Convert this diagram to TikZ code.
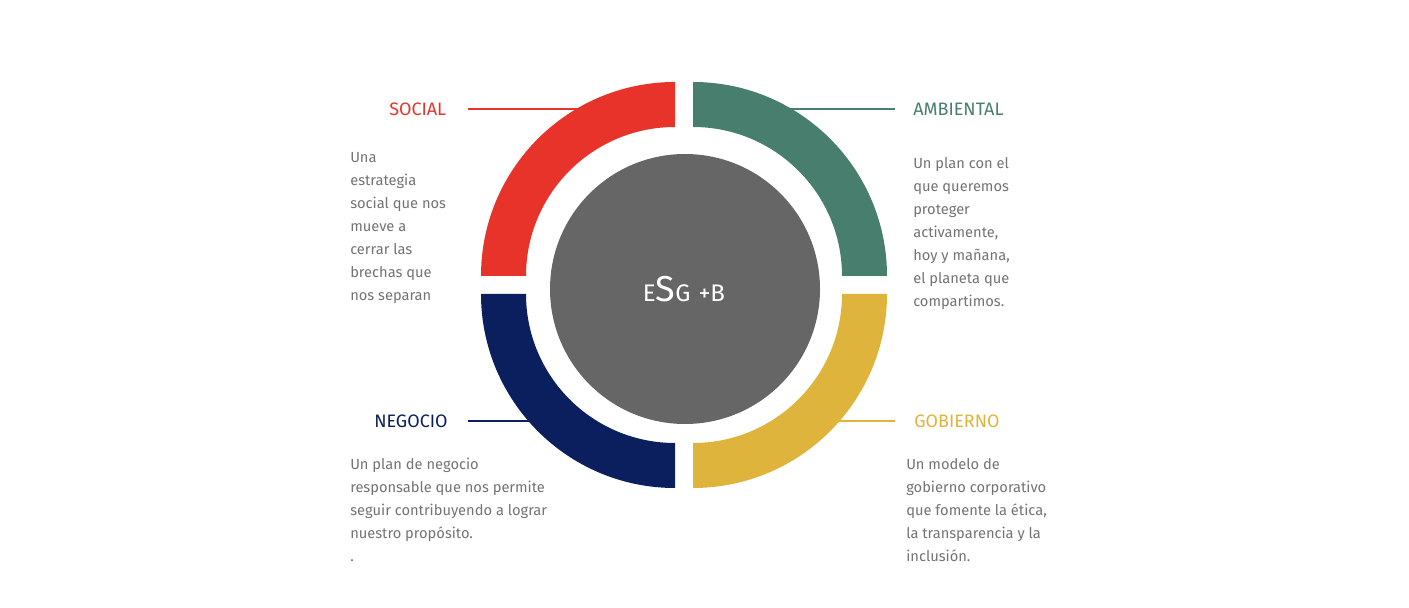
\documentclass[tikz,border=0pt]{standalone}
\usepackage{fontspec}
\setmainfont{Fira Sans}
\definecolor{csoc}{HTML}{E8332A}
\definecolor{camb}{HTML}{487E6D}
\definecolor{cgob}{HTML}{DFB43C}
\definecolor{cneg}{HTML}{0B1F5E}
\definecolor{cgrey}{HTML}{666666}
\definecolor{ctxt}{HTML}{737373}
\begin{document}
\begin{tikzpicture}[x=0.75pt,y=0.75pt,
 body/.style={anchor=north west,align=left,text=ctxt,font=\fontsize{11}{17.25}\selectfont,inner sep=0pt},
 ttl/.style={anchor=base west,font=\fontsize{13.5}{16}\selectfont,inner sep=0pt}]
\useasboundingbox (0,0) rectangle (1409,607);
% leader lines
\coordinate (sl1) at (468,498); \coordinate (sl2) at (600,498);
\coordinate (al1) at (770,498); \coordinate (al2) at (895,498);
\coordinate (nl1) at (468,186); \coordinate (nl2) at (545,186);
\coordinate (gl1) at (825,186); \coordinate (gl2) at (895,186);
\draw[csoc,line width=1.2pt] (sl1)--(sl2);
\draw[camb,line width=1.2pt] (al1)--(al2);
\draw[cneg,line width=1.2pt] (nl1)--(nl2);
\draw[cgob,line width=1.2pt] (gl1)--(gl2);
% quadrants
\fill[csoc] (481,331) arc[start angle=180,end angle=90,radius=145.5pt] -- (675,480) arc[start angle=90,end angle=180,radius=111.75pt] -- cycle;
\fill[camb] (693,525) arc[start angle=90,end angle=0,radius=145.5pt] -- (842,331) arc[start angle=0,end angle=90,radius=111.75pt] -- cycle;
\fill[cgob] (887,313) arc[start angle=0,end angle=-90,radius=145.5pt] -- (693,164) arc[start angle=-90,end angle=0,radius=111.75pt] -- cycle;
\fill[cneg] (675,119) arc[start angle=270,end angle=180,radius=145.5pt] -- (526,313) arc[start angle=180,end angle=270,radius=111.75pt] -- cycle;
\node[circle,fill=cgrey,minimum size=202.5pt,inner sep=0pt] (c) at (685,318) {};
\node[text=white,inner sep=0pt] (lbl) at (684,318) {\fontsize{18}{20}\selectfont E\fontsize{27}{30}\selectfont S\fontsize{18}{20}\selectfont G\hspace{6pt}+B};
% titles
\node[ttl,text=csoc] (ts) at (389,491) {SOCIAL};
\node[ttl,text=camb] (ta) at (913,491) {AMBIENTAL};
\node[ttl,text=cneg] (tn) at (374,180) {NEGOCIO};
\node[ttl,text=cgob] (tg) at (914,180) {GOBIERNO};
% bodies
\node[body] (bs) at (350,455) {Una\\estrategia\\social que nos\\mueve a\\cerrar las\\brechas que\\nos separan};
\node[body] (ba) at (913,450) {Un plan con el\\que queremos\\proteger\\activamente,\\hoy y mañana,\\el planeta que\\compartimos.};
\node[body] (bn) at (350,149) {Un plan de negocio\\responsable que nos permite\\seguir contribuyendo a lograr\\nuestro propósito.\\.};
\node[body] (bg) at (906,149) {Un modelo de\\gobierno corporativo\\que fomente la ética,\\la transparencia y la\\inclusión.};
\end{tikzpicture}
\end{document}
